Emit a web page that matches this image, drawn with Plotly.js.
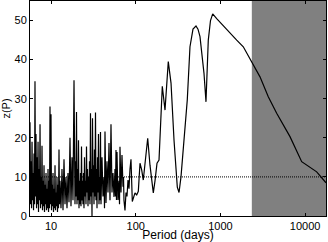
<!DOCTYPE html>
<html>
<head>
<meta charset="utf-8">
<script src="https://cdn.plot.ly/plotly-3.0.1.min.js"></script>
<style>html,body{margin:0;padding:0;background:#fff;}#chart{width:328px;height:242px;}</style>
</head>
<body>
<div id="chart"></div>
<script>
// Period (days)
const period = [
5.65,5.73,5.81,5.89,5.97,6.05,6.13,6.22,6.30,6.39,
6.47,6.56,6.65,6.75,6.84,6.93,7.03,7.12,7.22,7.32,
7.42,7.52,7.62,7.73,7.83,7.94,8.05,8.16,8.27,8.38,
8.50,8.61,8.73,8.85,8.97,9.10,9.22,9.35,9.47,9.60,
9.73,9.87,10.0,10.14,10.28,10.42,10.56,10.70,10.85,11.0,
11.15,11.30,11.46,11.61,11.77,11.93,12.10,12.26,12.43,12.60,
12.77,13.12,13.48,13.86,14.24,14.63,15.03,15.45,15.87,16.31,
16.76,17.22,17.70,18.18,18.69,19.20,19.46,19.73,20.00,20.27,
20.55,20.83,21.12,21.41,21.70,22.00,22.30,22.60,22.91,23.23,
23.55,23.87,24.19,24.52,24.86,25.20,25.54,25.89,26.25,26.61,
26.97,27.34,27.71,28.09,28.48,28.87,29.26,29.66,30.07,30.48,
30.90,31.32,31.75,32.18,32.62,33.07,33.52,33.98,34.45,34.92,
35.40,35.88,36.37,36.87,37.37,37.88,38.40,38.93,40.00,41.10,
42.24,42.82,43.40,44.60,45.82,47.09,48.38,49.72,51.09,52.49,
53.94,55.43,56.96,57.70,58.53,59.30,60.14,61.80,63.50,64.40,
65.25,67.05,68.90,70.80,71.80,72.75,74.75,76.82,78.93,81.11,
83.35,85.64,88.00,91.2,94.2,98.12,102.8,107.4,112.4,117.7,
122.9,128.8,138.6,147.5,161.4,169.0,178.5,188.5,196.3,206.1,
221.9,242.6,261.3,283.5,309.9,324.8,342.6,364.8,406.5,437.5,
474.8,515.1,543.9,574.3,640.3,676.1,700.3,719.6,764.1,811.1,
904.4,1082,1298,1558,1864,2236,2935,3677,4620,6634,
9118,13710,17650
];
// z(P)
const zP = [
24,3,14,2,19,4,11,1.5,16,3,
34.5,5,21,2,15,3,19,1,12,4,
23.5,2,10,3,18,1.5,9,2.5,13,1,
8,3,11,1.5,7,2,12,1,9,2,
28,3,26,1.5,8,2.5,11,1,7,2,
13,1.5,6,2.5,10,1,8,2,17,3,
9,2,12,1.5,14.5,3,10,2,11,3.5,
20,2.5,15,4,34.7,3,14,5,26.6,3,
12,4,19.4,2,9,3,11,2.5,17.8,4,
9,3,11,2,15,5,9,3,17.8,6,
12,2.5,10,4,14,3,26.3,5,12,0,
25,6,13,3,17,5,26.5,4,12,2,
15,6,21,3,10,4,21.5,3,15,5,
10,2,21.6,3.3,14,6,18.7,4,23.5,6,
11,4.9,12,5,16.9,4.1,16.4,4.1,9,3,
17.7,6,15.6,7.5,10,4,1.4,6,5,9.2,
7,12,14.5,3.7,5,5.9,5.4,6.3,13.5,11.8,
9.2,14,19.9,13,5.9,9,13.5,14.3,24,33.2,
27.1,39.5,34,19.4,7.4,6,10,17.7,29.7,43.3,
47.8,48.6,47.8,45.9,36.5,29.2,36,45,50,51.7,
50.5,48.6,46.7,45,43.3,40.3,35.6,30.5,26.3,20.3,
13.9,11.3,8.5
];
const xTickVals = [10, 100, 1000, 10000];
const xTickText = ["10", "100", "1000", "10000"];
const yTickVals = [0, 10, 20, 30, 40, 50];
const thresholdZ = 10;
const shadeStart = 2350;
const shadeEnd = 20000;

const font = {family: "Liberation Sans, Arial, sans-serif", size: 11, color: "#000"};

const trace = {
  x: period, y: zP, type: "scatter", mode: "lines",
  line: {color: "#000", width: 1.2}, hoverinfo: "skip"
};

const layout = {
  width: 328, height: 242,
  margin: {l: 30, r: 2, t: 1, b: 26, pad: 0},
  paper_bgcolor: "#fff", plot_bgcolor: "#fff",
  showlegend: false, font: font,
  xaxis: {
    type: "log", range: [0.752, 4.247],
    tickvals: xTickVals, ticktext: xTickText,
    ticks: "inside", ticklen: 3, tickcolor: "#000",
    showline: true, linecolor: "#000", linewidth: 1, mirror: "ticks",
    showgrid: false, zeroline: false,
    tickfont: font,
    title: {text: "Period (days)", font: {family: font.family, size: 12, color: "#000", weight: "normal"}, standoff: 1}
  },
  yaxis: {
    range: [0, 55], tickvals: yTickVals,
    ticks: "inside", ticklen: 3, tickcolor: "#000",
    showline: true, linecolor: "#000", linewidth: 1, mirror: "ticks",
    showgrid: false, zeroline: false,
    tickfont: font,
    title: {text: "z(P)", font: {family: font.family, size: 11, color: "#000"}, standoff: 2}
  },
  shapes: [
    {type: "rect", xref: "x", yref: "paper", x0: shadeStart, x1: shadeEnd, y0: 0, y1: 1,
     fillcolor: "#808080", line: {width: 0}, layer: "below"},
    {type: "line", xref: "paper", yref: "y", x0: 0, x1: 1, y0: thresholdZ, y1: thresholdZ,
     line: {color: "#000", width: 1, dash: "1px,1px"}, layer: "above"}
  ]
};

Plotly.newPlot("chart", [trace], layout, {staticPlot: true, displayModeBar: false});
</script>
</body>
</html>
